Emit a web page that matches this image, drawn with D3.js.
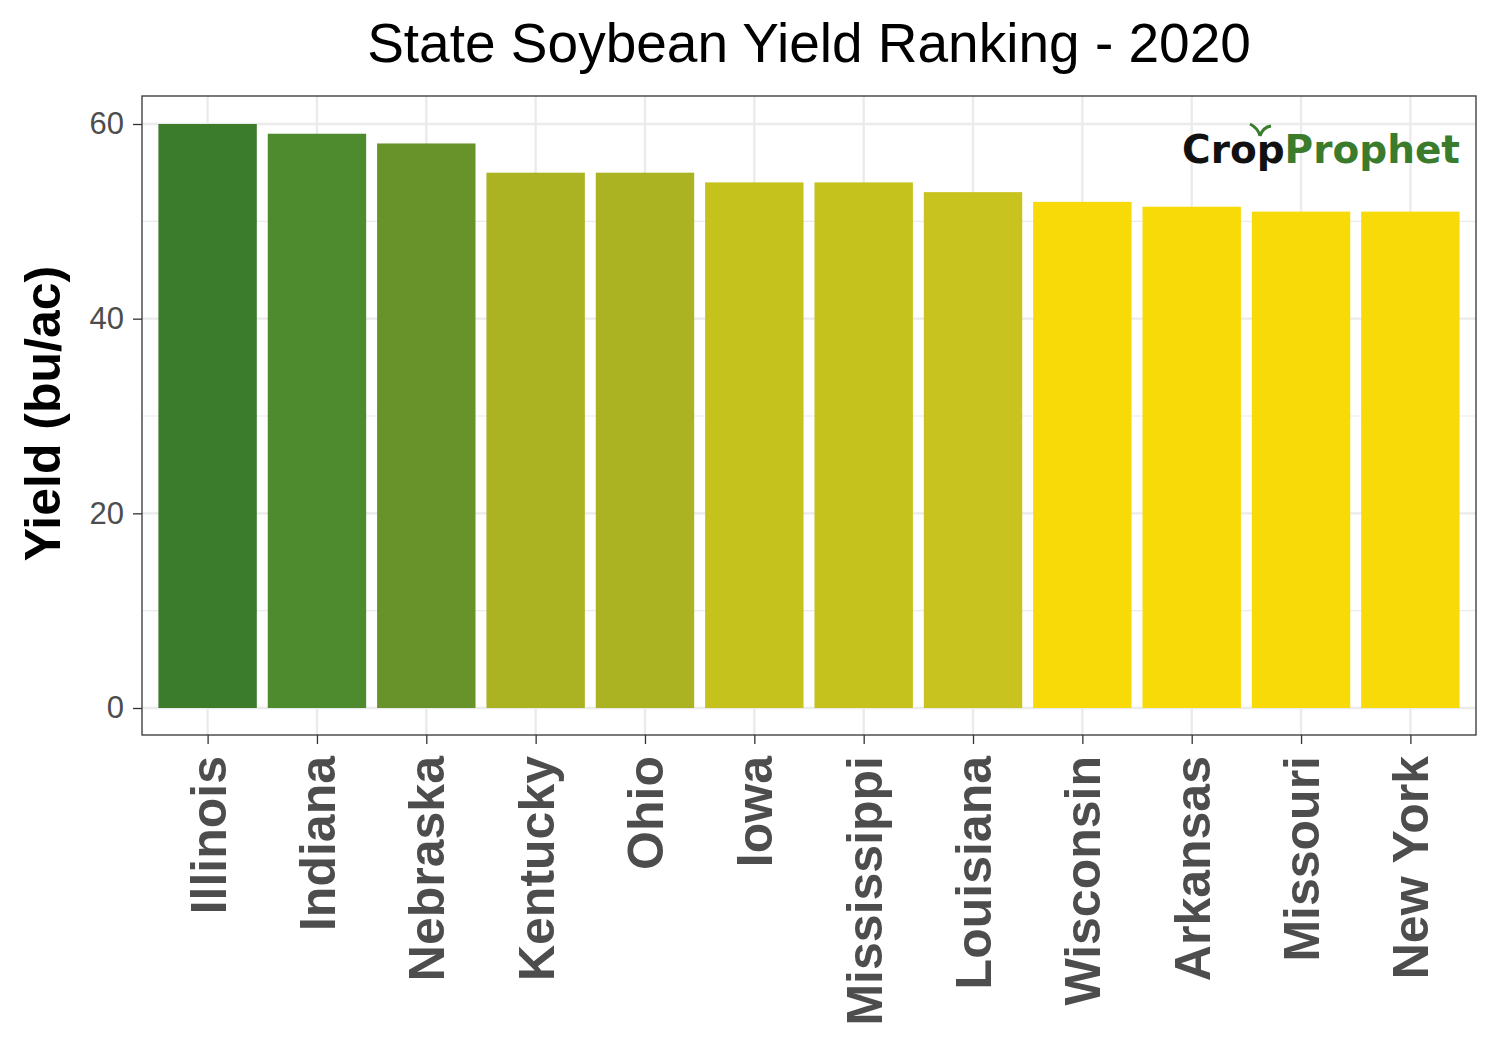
<!DOCTYPE html>
<html><head><meta charset="utf-8">
<script src="https://cdn.jsdelivr.net/npm/d3@7"></script>
<style>body{margin:0;background:#fff;font-family:"Liberation Sans",Arial,sans-serif;}</style>
</head><body><div id="chart"></div>
<script>
const states = ["Illinois","Indiana","Nebraska","Kentucky","Ohio","Iowa","Mississippi","Louisiana","Wisconsin","Arkansas","Missouri","New York"];
const yields = [60, 59, 58, 55, 55, 54, 54, 53, 52, 51.5, 51, 51];
const barColors = ["#3a7b2c","#4e8a2e","#68922a","#abb323","#abb323","#c6c21d","#c6c21d","#c8c31e","#f7da08","#f7da08","#f7da08","#f7da08"];
const yTicks = [0, 20, 40, 60];
const yMinor = [10, 30, 50];

const W = 1500, H = 1050;
const panel = { left: 142, right: 1476, top: 96, bottom: 735 };

const svg = d3.select("#chart").append("svg").attr("width", W).attr("height", H);

const x = d3.scaleLinear().domain([-0.6, states.length - 0.4]).range([panel.left, panel.right]);
const y = d3.scaleLinear().domain([0, 60]).range([708, 124]);
const step = x(1) - x(0);
const barW = step * 0.9;

// grid
svg.selectAll(".minor").data(yMinor).enter().append("line")
    .attr("x1", panel.left).attr("x2", panel.right)
    .attr("y1", d => y(d)).attr("y2", d => y(d))
    .attr("stroke", "#ebebeb").attr("stroke-width", 1.2);
svg.selectAll(".major").data(yTicks).enter().append("line")
    .attr("x1", panel.left).attr("x2", panel.right)
    .attr("y1", d => y(d)).attr("y2", d => y(d))
    .attr("stroke", "#ebebeb").attr("stroke-width", 2.4);
svg.selectAll(".vmajor").data(states).enter().append("line")
    .attr("x1", (d, i) => x(i)).attr("x2", (d, i) => x(i))
    .attr("y1", panel.top).attr("y2", panel.bottom)
    .attr("stroke", "#ebebeb").attr("stroke-width", 2.4);

// bars
svg.selectAll(".bar").data(yields).enter().append("rect")
    .attr("x", (d, i) => x(i) - barW / 2)
    .attr("width", barW)
    .attr("y", d => y(d))
    .attr("height", d => y(0) - y(d))
    .attr("fill", (d, i) => barColors[i]);

// panel border
svg.append("rect").attr("x", panel.left).attr("y", panel.top)
    .attr("width", panel.right - panel.left).attr("height", panel.bottom - panel.top)
    .attr("fill", "none").attr("stroke", "#333").attr("stroke-width", 1.3);

// y axis
const yAxis = svg.append("g").attr("transform", `translate(${panel.left},0)`)
    .call(d3.axisLeft(y).tickValues(yTicks).tickSize(9).tickPadding(9));
yAxis.select(".domain").remove();
yAxis.selectAll("line").attr("stroke", "#333").attr("stroke-width", 1.3);
yAxis.selectAll("text").attr("fill", "#4d4d4d").style("font-size", "31px").style("font-family", "Liberation Sans, Arial, sans-serif");

// x axis
const xAxis = svg.append("g").attr("transform", `translate(0,${panel.bottom})`)
    .call(d3.axisBottom(x).tickValues(d3.range(states.length)).tickFormat(i => states[i]).tickSize(9));
xAxis.select(".domain").remove();
xAxis.selectAll("line").attr("stroke", "#333").attr("stroke-width", 1.3);
xAxis.selectAll("text")
    .attr("fill", "#4d4d4d").style("font-size", "50px").style("font-weight", "bold")
    .style("font-family", "Liberation Sans, Arial, sans-serif")
    .attr("text-anchor", "end").attr("dy", "0.35em")
    .attr("transform", "translate(0,21) rotate(-90)").attr("x", 0).attr("y", 0);

// titles
svg.append("text").attr("x", (panel.left + panel.right) / 2).attr("y", 62)
    .attr("text-anchor", "middle").style("font-size", "55px").text("State Soybean Yield Ranking - 2020");
svg.append("text").attr("transform", `translate(60,${(panel.top + panel.bottom) / 2 - 2}) rotate(-90)`)
    .attr("text-anchor", "middle").style("font-size", "50px").style("font-weight", "bold").text("Yield (bu/ac)");

// logo
const logo = svg.append("text").attr("x", 1460).attr("y", 163).attr("text-anchor", "end")
    .style("font-size", "39px").style("font-weight", "bold").style("font-family", "DejaVu Sans, sans-serif");
logo.append("tspan").attr("fill", "#111").text("Crop");
logo.append("tspan").attr("fill", "#3a7b2c").text("Prophet");
svg.append("path").attr("d", "M1260,136 q-2,-8 -10,-12 M1260,136 q3,-9 11,-10")
    .attr("fill", "none").attr("stroke", "#3a7b2c").attr("stroke-width", 3);
</script></body></html>
